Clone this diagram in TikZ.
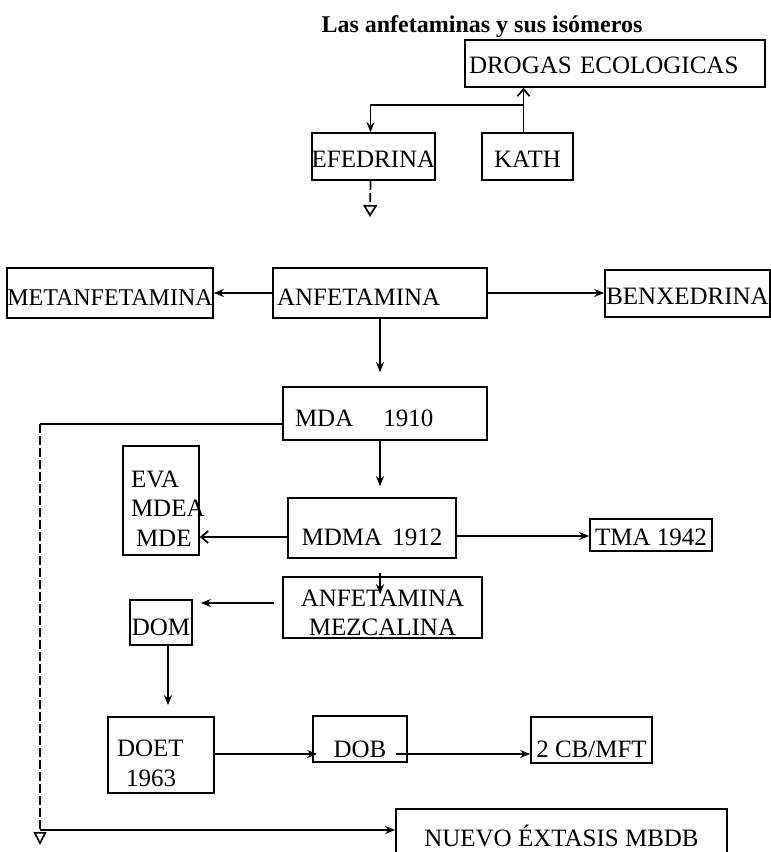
\documentclass[tikz,border=0pt]{standalone}
\usepackage{fontspec}
\setmainfont{Liberation Serif}
\usetikzlibrary{arrows.meta}

\begin{document}
\begin{tikzpicture}[x=1pt, y=-1pt, line width=1.7pt, >={Stealth[length=10pt, width=8pt]},
    caja/.style={draw, inner sep=0pt, font=\fontsize{25}{29.5}\selectfont},
    linea/.style 2 args={text height=#1pt, text depth=#2pt},
    abierta/.style={-{Straight Barb[length=7pt, width=12pt]}},
    punteada/.style={dash pattern=on 9pt off 3pt}]
  \useasboundingbox (0, 0) rectangle (771, 852);
  \clip (0, 0) rectangle (771, 852);

  \node[anchor=base, font=\fontsize{24}{29}\selectfont\bfseries] (titulo) at (482, 32) {Las anfetaminas y sus isómeros};

  \node[caja, linea={33}{14}, minimum width=300pt, text width=292pt, inner xsep=4pt, align=left] (drogas) at (615, 63.5) {DROGAS ECOLOGICAS};
  \node[caja, linea={34}{13}, minimum width=121pt] (efe) at (373.5, 156.5) {EFEDRINA};
  \node[caja, linea={34}{13}, minimum width=91pt] (kath) at (527.5, 156.5) {KATH};

  \node[caja, linea={37}{13}, minimum width=206pt, font=\fontsize{24}{29.5}\selectfont] (met) at (110, 293) {METANFETAMINA};
  \node[caja, linea={37}{13}, text width=206pt, inner xsep=4pt, align=left] (anf) at (380, 293) {ANFETAMINA};
  \node[caja, linea={34}{13}, minimum width=165pt] (benx) at (687.5, 293.5) {BENXEDRINA};

  \node[caja, linea={39}{14}, text width=180pt, inner xsep=12pt, align=left] (mda) at (385, 413.5) {MDA\hspace{30pt}1910};
  \node[caja, minimum height=109pt, text width=72pt, inner xsep=2pt, align=left] (eva) at (161, 500.5)
    {\rule{0pt}{33pt}\hspace*{6pt}EVA\\\hspace*{6pt}MDEA\\\hspace*{11pt}MDE};
  \node[caja, linea={47}{13}, minimum width=168pt] (mdma) at (372, 528) {MDMA\hspace{10pt}1912};
  \node[caja, linea={26}{6}, minimum width=122pt] (tma) at (651, 535) {TMA 1942};
  \node[caja, minimum height=61pt, text width=199pt, align=center] (mez) at (382.5, 607.5)
    {\rule{0pt}{27pt}ANFETAMINA\\MEZCALINA};
  \node[caja, linea={35}{10}, minimum width=62pt] (dom) at (161, 622.5) {DOM};

  \node[caja, minimum height=76pt, text width=88pt, inner xsep=9pt, align=left] (doet) at (161, 755)
    {\rule{0pt}{33pt}DOET\\\hspace*{9pt}1963};
  \node[caja, linea={41}{5}, minimum width=94pt] (dob) at (360, 739) {DOB};
  \node[caja, linea={40}{6}, minimum width=121pt] (cb) at (591.5, 740) {2 CB/MFT};
  \node[caja, linea={37}{23}, minimum width=331pt] (nuevo) at (561.5, 839) {NUEVO ÉXTASIS MBDB};

  % arriba
  \coordinate (rama) at (0, 105);
  \coordinate (efefin) at (370, 217);
  \draw[abierta] ([xshift=-4pt]kath.north) -- ([xshift=-4pt]kath.north |- drogas.south);
  \draw[->] ([xshift=-4pt]kath.north |- rama) -| ([xshift=-3pt]efe.north);
  \draw[punteada, -{Triangle[open, length=12pt, width=14pt]}] ([xshift=-3pt]efe.south) -- (efefin);

  % centro
  \draw[->] (anf.west) -- (met.east);
  \draw[->] (anf.east) -- (anf.east -| benx.west);
  \draw[->, shorten >=14pt] (anf.south) -- (anf.south |- mda.north);
  \draw[->, shorten >=11pt] ([xshift=-5pt]mda.south) -- ([xshift=-5pt]mda.south |- mdma.north);
  \draw[abierta] ([yshift=-9pt]mdma.west) -- ([yshift=-9pt]mdma.west -| eva.east);
  \draw[->] ([yshift=-8pt]mdma.east) -- ([yshift=-8pt]mdma.east -| tma.west);
  \draw[->, shorten <=14pt, shorten >=-18pt] ([xshift=8pt]mdma.south) -- ([xshift=8pt]mdma.south |- mez.north);
  \draw[->, shorten <=8pt, shorten >=8pt] ([yshift=4.5pt]mez.west) -- ([yshift=4.5pt]mez.west -| dom.east);

  % abajo
  \draw[->, shorten >=11pt] ([xshift=7pt]dom.south) -- ([xshift=7pt]dom.south |- doet.north);
  \draw[->, shorten >=-5pt] ([yshift=1pt]doet.east) -- ([yshift=1pt]doet.east -| dob.west);
  \draw[->] ([shift={(-12pt,-15pt)}]dob.east) -- ([yshift=-15pt]dob.east -| cb.west);

  % rama de la izquierda
  \coordinate (codo) at (40, 424);
  \coordinate (codoinf) at (40, 830);
  \coordinate (fondo) at (40, 845);
  \draw (mda.west |- codo) -- (codo);
  \draw[punteada, -{Triangle[open, length=13pt, width=13pt]}] (codo) -- (fondo);
  \draw[->] (codoinf) -- (codoinf -| nuevo.west);
\end{tikzpicture}
\end{document}
